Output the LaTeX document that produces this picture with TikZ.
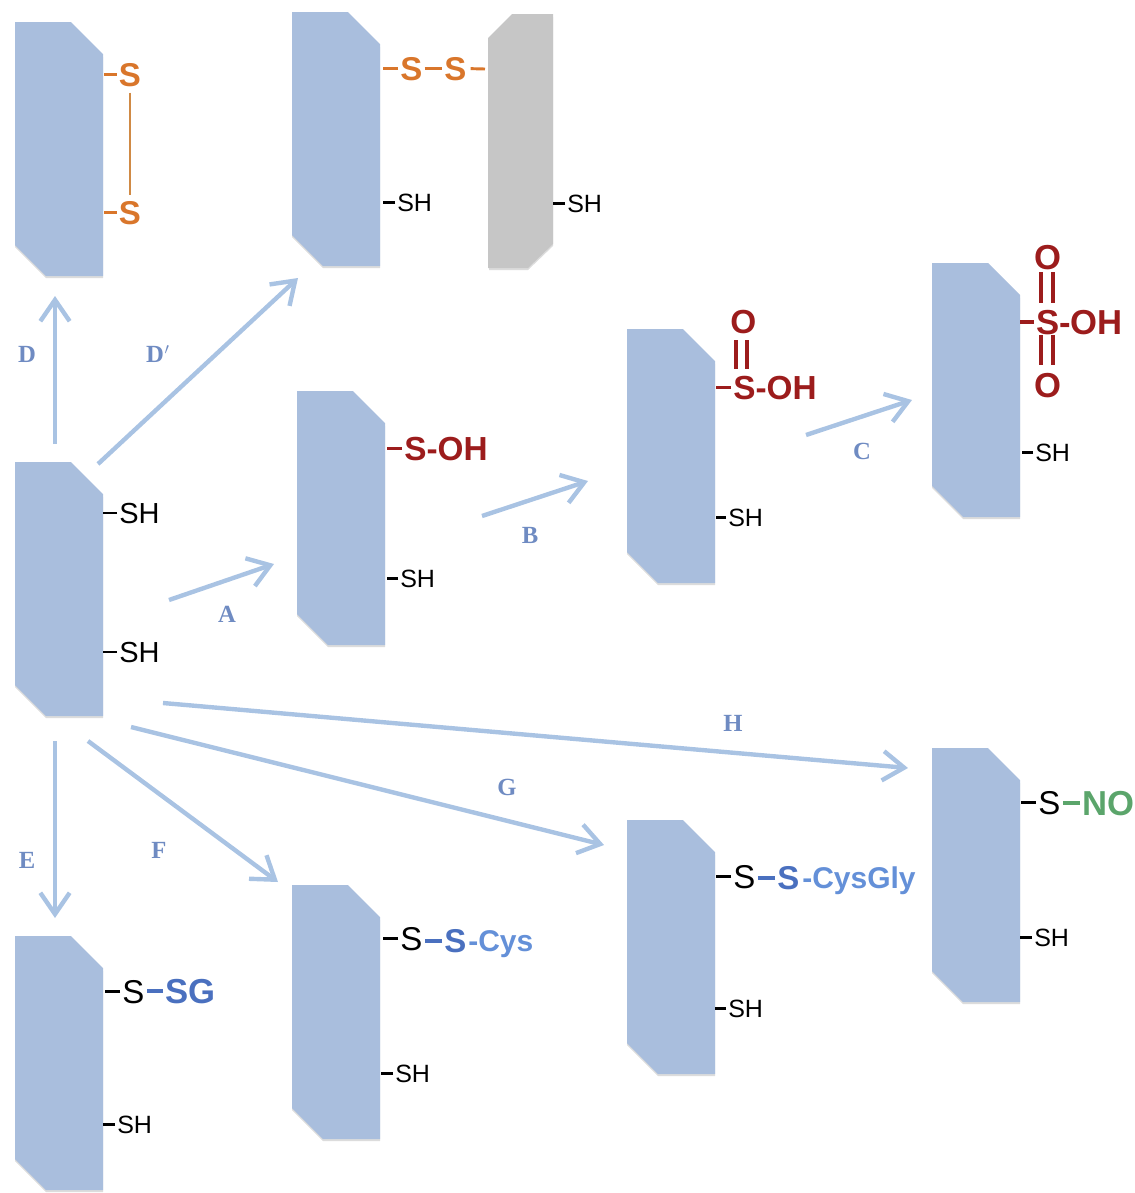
\documentclass[tikz,border=0pt]{standalone}
\usepackage{fontspec}
\setmainfont{Liberation Sans}
\newfontfamily\labserif{Liberation Serif}
\usetikzlibrary{arrows.meta,calc}
\definecolor{blockblue}{HTML}{A9BEDD}
\definecolor{blockgray}{HTML}{C6C6C6}
\definecolor{arrowblue}{HTML}{A9C3E3}
\definecolor{labblue}{HTML}{6F8BC2}
\definecolor{sorange}{HTML}{D9762B}
\definecolor{bondorange}{HTML}{D08A45}
\definecolor{dred}{HTML}{9C1C1C}
\definecolor{sblue}{HTML}{4A70BF}
\definecolor{lblue}{HTML}{6490D8}
\definecolor{sgreen}{HTML}{5BA56B}
\tikzset{
  txt/.style={inner sep=0pt,anchor=base west},
  shsmall/.style={txt,font=\fontsize{18.75}{20}\selectfont,text=black},
  shbig/.style={txt,font=\fontsize{21.75}{24}\selectfont,text=black},
  sreg/.style={txt,font=\fontsize{24.75}{26}\selectfont,text=black},
  oS/.style={txt,font=\fontsize{24.75}{26}\selectfont\bfseries,text=sorange},
  redtxt/.style={txt,font=\fontsize{25}{26}\selectfont\bfseries,text=dred},
  redtxtb/.style={txt,font=\fontsize{26}{27}\selectfont\bfseries,text=dred},
  blueS/.style={txt,font=\fontsize{24.75}{26}\selectfont\bfseries,text=sblue},
  bluetxt/.style={txt,font=\fontsize{22.5}{24}\selectfont\bfseries,text=lblue},
  greentxt/.style={txt,font=\fontsize{26}{28}\selectfont\bfseries,text=sgreen},
  steplab/.style={inner sep=0pt,font=\labserif\fontsize{18.5}{20}\selectfont\bfseries,text=labblue},
  rxn/.style={draw=arrowblue,line width=3.3pt,-{Straight Barb[length=16pt,width=22pt,line width=3.3pt]}},
  bondk/.style={draw=black,line width=1.8pt},
  bondo/.style={draw=sorange,line width=2.2pt},
  bondr/.style={draw=dred,line width=2.8pt},
  bondb/.style={draw=sblue,line width=3pt},
  bondg/.style={draw=sgreen,line width=3pt},
  dbl/.style={draw=dred,line width=2.3pt}
}
% #1 x, #2 y: block with top-right and bottom-left corners cut
\newcommand{\protblock}[2]{%
  \fill[black!45,opacity=.3] (#1+1,#2+3) -- ++(55,0) -- ++(32,32) -- ++(0,221) -- ++(-57,0) -- ++(-31,-31) -- cycle;
  \fill[blockblue] (#1,#2) -- ++(56,0) -- ++(32,32) -- ++(0,222) -- ++(-57,0) -- ++(-31,-31) -- cycle;
}
\newcommand{\bondfrom}[3]{\draw[#1] (#2.west) ++(-2,0) -- ++(-#3,0);}
\begin{document}
\begin{tikzpicture}[x=0.75pt,y=-0.75pt]
\useasboundingbox (0,0) rectangle (1135,1193);
\protblock{15}{22}
\protblock{292}{12}
\protblock{297}{391}
\protblock{627}{329}
\protblock{932}{263}
\protblock{15}{462}
\protblock{15}{936}
\protblock{292}{885}
\protblock{627}{820}
\protblock{932}{748}
% grey partner block
\fill[black!45,opacity=.3] (489,40) -- (512,17) -- (553,17) -- (553,246) -- (528,270) -- (489,270) -- cycle;
\fill[blockgray] (488,38) -- (512,14) -- (553,14) -- (553,244) -- (528,268) -- (488,268) -- cycle;

% D
\node[oS] (ds1) at (118.5,86) {S};
\node[oS] (ds2) at (118.5,224) {S};
\bondfrom{bondo}{ds1}{13}
\bondfrom{bondo}{ds2}{13}
\draw[draw=bondorange,line width=1.6pt] ($(ds1.south)+(0,6)$) -- ($(ds2.north)+(0,-6)$);
% D'
\node[oS] (dp1) at (400,80) {S};
\node[oS] (dp2) at (444,80) {S};
\bondfrom{bondo}{dp1}{15}
\draw[bondo] ($(dp1.east)+(2,0)$) -- ($(dp2.west)+(-2,0)$);
\coordinate (gleft) at (485,69);
\draw[bondo] ($(dp2.east)+(4,0)$) -- (gleft);
\node[shsmall] (dpsh1) at (397,211) {SH};
\bondfrom{bondk}{dpsh1}{12}
\node[shsmall] (dpsh2) at (567,212) {SH};
\bondfrom{bondk}{dpsh2}{12}
% main
\node[shbig] (m1) at (119,523) {SH};
\node[shbig] (m2) at (119,662) {SH};
\bondfrom{bondk}{m1}{14}
\bondfrom{bondk}{m2}{14}
% A
\node[redtxt] (a1) at (404,460) {S-OH};
\bondfrom{bondr}{a1}{15}
\node[shsmall] (a2) at (400,587) {SH};
\bondfrom{bondk}{a2}{11}
% B
\node[redtxt] (b1) at (733,399) {S-OH};
\bondfrom{bondr}{b1}{15}
\node[redtxt] (bo) at (730,333) {O};
\draw[dbl] (736,340) -- (736,369) (747,340) -- (747,369);
\node[shsmall] (b2) at (728,526) {SH};
\bondfrom{bondk}{b2}{10}
% C
\node[redtxtb] (c1) at (1036,334) {S-OH};
\bondfrom{bondr}{c1}{14}
\node[redtxtb] (co1) at (1034,269) {O};
\node[redtxtb] (co2) at (1034,397) {O};
\draw[dbl] (1041,272) -- (1041,303) (1053,272) -- (1053,303)
  (1041,335) -- (1041,365) (1053,335) -- (1053,365);
\node[shsmall] (c2) at (1035,461) {SH};
\bondfrom{bondk}{c2}{11}
% E
\node[sreg] (e1) at (122,1003) {S};
\bondfrom{bondk}{e1}{15}
\node[txt,font=\fontsize{26}{28}\selectfont\bfseries,text=sblue] (e2) at (165,1003) {SG};
\bondfrom{bondb}{e2}{16}
\node[shsmall] (e3) at (117,1133) {SH};
\bondfrom{bondk}{e3}{12}
% F
\node[sreg] (f1) at (400,950) {S};
\bondfrom{bondk}{f1}{15}
\node[blueS] (f2) at (444,952) {S};
\bondfrom{bondb}{f2}{17}
\node[bluetxt,anchor=base west] (f3) at (468,951) {-Cys};
\node[shsmall] (f4) at (395,1082) {SH};
\bondfrom{bondk}{f4}{12}
% G
\node[sreg] (g1) at (733,888) {S};
\bondfrom{bondk}{g1}{15}
\node[blueS] (g2) at (777,889) {S};
\bondfrom{bondb}{g2}{17}
\node[bluetxt] (g3) at (802,888) {-CysGly};
\node[shsmall] (g4) at (728,1017) {SH};
\bondfrom{bondk}{g4}{11}
% H
\node[sreg] (h1) at (1038,814) {S};
\bondfrom{bondk}{h1}{15}
\node[greentxt] (h2) at (1082,815) {NO};
\bondfrom{bondg}{h2}{17}
\node[shsmall] (h3) at (1034,946) {SH};
\bondfrom{bondk}{h3}{12}

% reaction arrows
\coordinate (rDa) at (55,444);   \coordinate (rDb) at (55,296);
\coordinate (rPa) at (98,464);   \coordinate (rPb) at (298,278);
\coordinate (rAa) at (169,600);  \coordinate (rAb) at (274,564);
\coordinate (rBa) at (482,516);  \coordinate (rBb) at (588,481);
\coordinate (rCa) at (806,435);  \coordinate (rCb) at (912,400);
\coordinate (rHa) at (163,703);  \coordinate (rHb) at (908,768);
\coordinate (rGa) at (131,727);  \coordinate (rGb) at (604,845);
\coordinate (rFa) at (88,741);   \coordinate (rFb) at (278,882);
\coordinate (rEa) at (55,741);   \coordinate (rEb) at (55,918);
\foreach \p in {D,P,A,B,C,H,G,F,E} \draw[rxn] (r\p a) -- (r\p b);

\node[steplab] (lD) at (27,354) {D};
\node[steplab] (lP) at (158,354) {D\kern.5pt$'$};
\node[steplab] (lA) at (227,614) {A};
\node[steplab] (lB) at (530,535) {B};
\node[steplab] (lC) at (862,451) {C};
\node[steplab] (lH) at (733,723) {H};
\node[steplab] (lG) at (507,787) {G};
\node[steplab] (lF) at (159,850) {F};
\node[steplab] (lE) at (27,860) {E};
\end{tikzpicture}
\end{document}
